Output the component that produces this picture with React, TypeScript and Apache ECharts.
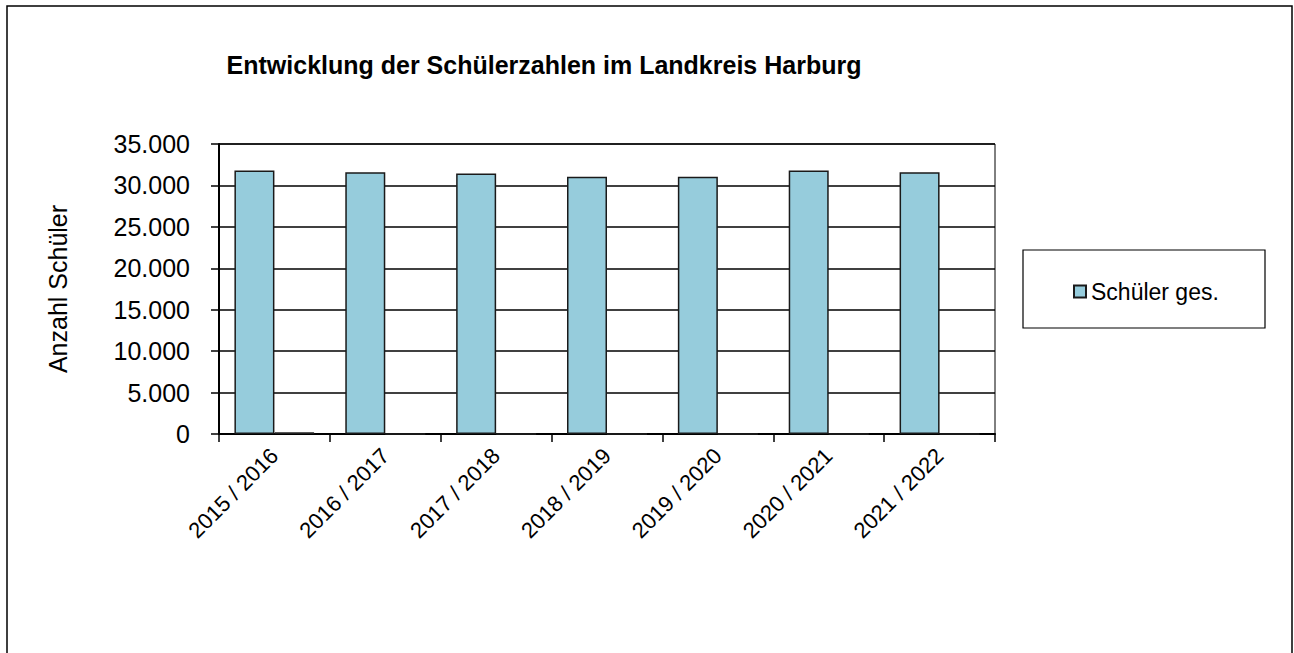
import React, { useEffect, useRef } from "react";
import * as echarts from "echarts";

const categories = ["2015 / 2016", "2016 / 2017", "2017 / 2018", "2018 / 2019", "2019 / 2020", "2020 / 2021", "2021 / 2022"];
const schuelerGes = [31800, 31600, 31440, 31040, 31040, 31800, 31600];
const nebenReihe = [200, 0, 0, 0, 0, 0, 0];
const yTicks = { min: 0, max: 35000, interval: 5000 };

const FONT = "Arial, 'Liberation Sans', sans-serif";

export default function App() {
  const ref = useRef<HTMLDivElement>(null);
  useEffect(() => {
    if (!ref.current) return;
    const chart = echarts.init(ref.current, undefined, { renderer: "svg" });
    chart.setOption({
      animation: false,
      backgroundColor: "#ffffff",
      textStyle: { fontFamily: FONT, color: "#000" },
      title: {
        text: "Entwicklung der Schülerzahlen im Landkreis Harburg",
        left: 539,
        textAlign: "center",
        top: 47,
        textStyle: { fontFamily: FONT, fontSize: 25, fontWeight: "bold", color: "#000" },
      },
      graphic: [
        {
          type: "rect",
          shape: { x: 7, y: 6, width: 1285, height: 700 },
          style: { fill: "none", stroke: "#000", lineWidth: 1.5 },
          silent: true,
        },
        {
          type: "rect",
          shape: { x: 1023, y: 250, width: 242, height: 78 },
          style: { fill: "none", stroke: "#000", lineWidth: 1.2 },
          silent: true,
        },
      ],
      legend: {
        data: ["Schüler ges."],
        left: 1068,
        top: 275,
        itemWidth: 12,
        itemHeight: 12,
        itemGap: 5,
        textStyle: { fontFamily: FONT, fontSize: 23, color: "#000" },
        icon: "rect",
      },
      grid: {
        left: 219,
        top: 144,
        right: 299,
        bottom: 219,
        show: true,
        borderColor: "#000",
        borderWidth: 1,
      },
      xAxis: {
        type: "category",
        data: categories,
        axisLine: { lineStyle: { color: "#000", width: 2 } },
        axisTick: { show: true, length: 8, lineStyle: { color: "#000", width: 1.5 } },
        axisLabel: {
          rotate: 45,
          margin: 18,
          fontFamily: FONT,
          fontSize: 22,
          color: "#000",
          interval: 0,
        },
      },
      yAxis: {
        type: "value",
        min: yTicks.min,
        max: yTicks.max,
        interval: yTicks.interval,
        name: "Anzahl Schüler",
        nameLocation: "middle",
        nameGap: 149,
        nameRotate: 90,
        nameTextStyle: { fontFamily: FONT, fontSize: 25, color: "#000" },
        axisLine: { show: true, lineStyle: { color: "#000", width: 2 } },
        axisTick: { show: true, length: 8, lineStyle: { color: "#000", width: 1.5 } },
        splitLine: { show: true, lineStyle: { color: "#000", width: 1.5 } },
        axisLabel: {
          margin: 29,
          fontFamily: FONT,
          fontSize: 25,
          color: "#000",
          formatter: (v: number) => v.toLocaleString("de-DE"),
        },
      },
      series: [
        {
          name: "Schüler ges.",
          type: "bar",
          data: schuelerGes,
          barWidth: 40,
          barGap: "0%",
          itemStyle: { color: "#96CCDC", borderColor: "#1a1a1a", borderWidth: 1.5 },
        },
        {
          name: "Reihe 2",
          type: "bar",
          data: nebenReihe,
          barWidth: 40,
          barGap: "0%",
          itemStyle: { color: "#222", borderColor: "#222", borderWidth: 1 },
        },
      ],
    });
    return () => chart.dispose();
  }, []);
  return (
    <div
      ref={ref}
      style={{ position: "fixed", left: 0, top: 0, width: 1294, height: 653, background: "#fff" }}
    />
  );
}
